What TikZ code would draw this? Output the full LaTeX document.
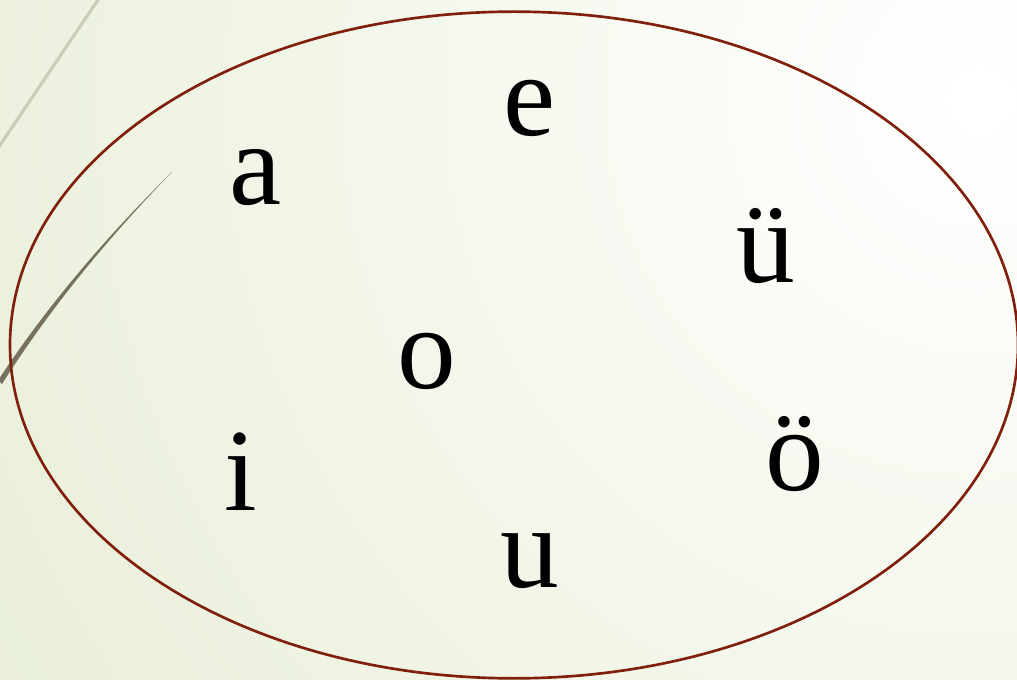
\documentclass[tikz,border=0pt]{standalone}
\usepackage{fontspec}
\setmainfont{Liberation Serif}
\usepackage{tikz}
\usetikzlibrary{shapes.geometric, positioning}
\definecolor{ringRed}{RGB}{128, 32, 12}
\definecolor{slideGreen}{RGB}{210, 223, 178}
\definecolor{streakGray}{RGB}{203, 204, 186}
\definecolor{streakDark}{RGB}{118, 114, 92}

\begin{document}
\begin{tikzpicture}[x=0.75pt, y=-0.75pt,
  vowel/.style={anchor=base, inner sep=0pt, font=\fontsize{88}{100}\selectfont}]

  \useasboundingbox (0,0) rectangle (1017,680);
  % slide background
  \begin{scope}
    \clip (0,0) rectangle (1017,680);
    \shade[inner color=white, outer color=slideGreen] (980,100) circle (2300);
    \draw[streakGray, line width=2.4pt] (-10,160) -- (108,-15);
    \fill[streakDark] (-2,380.5) .. controls (47.5,305) and (107.5,235.5) .. (172,172)
      .. controls (109,237) and (50.5,307.5) .. (2,384) -- cycle;
  \end{scope}

  \node[ellipse, draw=ringRed, line width=2pt, minimum width=756pt,
        minimum height=500pt, inner sep=0pt] (ring) at (514,345) {};

  \node[vowel] (a)  at (256,205) {a};
  \node[vowel] (e)  at (530,136) {e};
  \node[vowel] (ue) at (766,283) {ü};
  \node[vowel] (o)  at (427,389) {o};
  \node[vowel] (i)  at (241,510) {i};
  \node[vowel] (oe) at (795,491) {ö};
  \node[vowel] (u)  at (530,587) {u};

\end{tikzpicture}
\end{document}
